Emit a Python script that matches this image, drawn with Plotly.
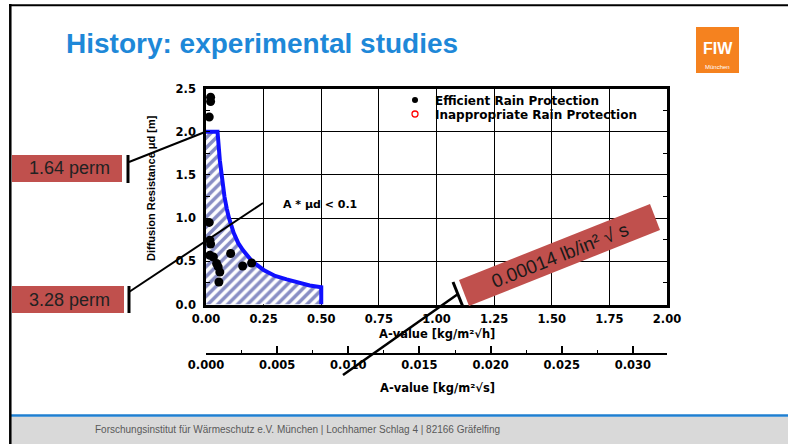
import plotly.graph_objects as go

# ---------------- data ----------------
eff_x = [0.020, 0.020, 0.014, 0.014, 0.017, 0.020, 0.017, 0.032, 0.046, 0.053, 0.060, 0.056, 0.107, 0.159, 0.198]
eff_y = [2.40, 2.35, 2.17, 0.95, 0.745, 0.70, 0.57, 0.55, 0.475, 0.435, 0.375, 0.26, 0.59, 0.445, 0.48]

inapp_x = [0.60, 0.70, 0.90, 0.99, 0.99, 0.99, 1.095, 1.396]
inapp_y = [0.27, 0.21, 0.27, 0.29, 0.245, 0.20, 0.256, 0.194]

# boundary A * mu_d = 0.1
bound_x = [0.0, 0.05, 0.06, 0.07, 0.08, 0.09, 0.10, 0.12, 0.14, 0.16, 0.18, 0.20, 0.25, 0.30, 0.35, 0.40, 0.45, 0.50, 0.50]
bound_y = [2.0, 2.0, 1.67, 1.43, 1.25, 1.11, 1.00, 0.83, 0.71, 0.63, 0.56, 0.50, 0.40, 0.33, 0.29, 0.25, 0.22, 0.20, 0.0]

x_ticks = [0.0, 0.25, 0.5, 0.75, 1.0, 1.25, 1.5, 1.75, 2.0]
y_ticks = [0.0, 0.5, 1.0, 1.5, 2.0, 2.5]
x2_ticks = [0.000, 0.005, 0.010, 0.015, 0.020, 0.025, 0.030]

W, H = 788, 444


def px(x):
    return x / W


def py(y):
    return 1 - y / H


CHART_FONT = "DejaVu Sans"
SLIDE_FONT = "Arial, Liberation Sans, sans-serif"

fig = go.Figure()

# hatched region
fig.add_trace(go.Scatter(
    x=[0.0] + bound_x, y=[0.0] + bound_y, mode="lines", fill="toself",
    line=dict(width=0, color="rgba(0,0,0,0)"),
    fillcolor="white",
    fillpattern=dict(shape="/", fgcolor="#121d8a", bgcolor="white", size=7, solidity=0.5),
    showlegend=False, hoverinfo="skip"))
# blue boundary
fig.add_trace(go.Scatter(
    x=bound_x, y=bound_y, mode="lines", line=dict(color="#1010ff", width=4),
    showlegend=False, hoverinfo="skip"))

fig.add_trace(go.Scatter(
    x=eff_x, y=eff_y, mode="markers", name="Efficient Rain Protection",
    marker=dict(color="black", size=9), showlegend=False))
fig.add_trace(go.Scatter(
    x=inapp_x, y=inapp_y, mode="markers", name="Inappropriate Rain Protection",
    marker=dict(color="rgba(0,0,0,0)", size=7, symbol="circle-open", line=dict(color="#ff0000", width=1.5)),
    showlegend=False))

# legend entries
fig.add_trace(go.Scatter(
    x=[None], y=[None], mode="markers", name="Efficient Rain Protection",
    marker=dict(color="black", size=6), legend="legend"))
fig.add_trace(go.Scatter(
    x=[None], y=[None], mode="markers", name="Inappropriate Rain Protection",
    marker=dict(size=6, symbol="circle-open", color="#ff0000", line=dict(color="#ff0000", width=1.3)),
    legend="legend2"))

# dummy trace for the secondary x axis
fig.add_trace(go.Scatter(x=[None], y=[None], xaxis="x2", yaxis="y", showlegend=False, hoverinfo="skip"))

tickfont = dict(family=CHART_FONT, size=11.5, color="black", weight="bold")

fig.update_layout(
    width=W, height=H,
    margin=dict(l=0, r=0, t=0, b=0, pad=0, autoexpand=False),
    paper_bgcolor="white", plot_bgcolor="white",
    xaxis=dict(
        domain=[px(206), px(667)], range=[0, 2], tickvals=x_ticks, tickformat=".2f",
        showgrid=True, gridcolor="black", gridwidth=1.3, zeroline=False,
        showline=True, linecolor="black", linewidth=2.5, mirror=True,
        ticks="", tickfont=tickfont, ticklabelstandoff=2, fixedrange=True, automargin=False),
    yaxis=dict(
        domain=[py(304.5), py(88.5)], range=[0, 2.5], tickvals=y_ticks, tickformat=".1f",
        showgrid=True, gridcolor="black", gridwidth=1.3, zeroline=False,
        showline=True, linecolor="black", linewidth=2.5, mirror="allticks",
        ticks="inside", ticklen=4, tickcolor="black", tickwidth=1.3,
        minor=dict(dtick=0.25, ticks="inside", ticklen=4, tickcolor="black", tickwidth=1.3, showgrid=False),
        tickfont=tickfont, ticklabelstandoff=5, fixedrange=True, automargin=False),
    xaxis2=dict(
        overlaying="x", anchor="free", position=py(354), side="bottom",
        range=[0, 0.0324], tickvals=x2_ticks, tickformat=".3f",
        showgrid=False, zeroline=False, showline=True, linecolor="black", linewidth=2,
        ticks="inside", ticklen=7, tickwidth=2, tickcolor="black",
        minor=dict(dtick=0.0025, ticks="inside", ticklen=3, tickcolor="black", tickwidth=1.3),
        tickfont=tickfont, fixedrange=True, automargin=False),
    legend=dict(x=px(395), y=py(100), xanchor="left", yanchor="middle",
                font=dict(family=CHART_FONT, size=12, color="black", weight="bold"),
                bgcolor="rgba(0,0,0,0)", borderwidth=0),
    legend2=dict(x=px(395), y=py(114), xanchor="left", yanchor="middle",
                 font=dict(family=CHART_FONT, size=12, color="black", weight="bold"),
                 bgcolor="rgba(0,0,0,0)", borderwidth=0),
    showlegend=True,
)


def line(x0, y0, x1, y1, width=2, color="black"):
    return dict(type="line", xref="paper", yref="paper", x0=px(x0), y0=py(y0), x1=px(x1), y1=py(y1),
                line=dict(color=color, width=width))


def rect(x0, y0, x1, y1, fill, layer="above"):
    return dict(type="rect", xref="paper", yref="paper", x0=px(x0), y0=py(y0), x1=px(x1), y1=py(y1),
                fillcolor=fill, line=dict(width=0), layer=layer)


# rotated red box corners (pixels)
corners = [(459, 280), (650, 204), (660, 230), (469, 306)]
path = "M " + " L ".join(f"{px(x):.5f},{py(y):.5f}" for x, y in corners) + " Z"

RED = "#c0504d"
shapes = [
    rect(11, 416.7, 788, 444, "#d9d9d9", layer="below"),
    line(11, 415.5, 788, 415.5, width=2.4, color="#1f7fd1"),
    line(9, 5.2, 788, 5.2, width=2),
    line(10.3, 4, 10.3, 444, width=2.5),
    rect(696, 27, 739, 73, "#f5821f"),
    rect(12, 155, 122, 182, RED),
    rect(12, 286, 124, 313, RED),
    line(128, 155, 128, 183, width=3),
    line(129, 286, 129, 313, width=3),
    line(129, 162, 205, 132, width=2),
    line(129, 292, 263, 203, width=2),
    line(343, 375, 458, 294, width=2.5),
    line(453, 282, 463, 307, width=3),
    dict(type="path", xref="paper", yref="paper", path=path, fillcolor=RED, line=dict(width=0)),
]
fig.update_layout(shapes=shapes)


def ann(text, x, y, size, family=SLIDE_FONT, color="black", bold=False, xanchor="center", yanchor="middle", angle=0):
    return dict(text=text, x=px(x), y=py(y), xref="paper", yref="paper", showarrow=False,
                xanchor=xanchor, yanchor=yanchor, textangle=angle,
                font=dict(family=family, size=size, color=color, weight="bold" if bold else "normal"))


annotations = [
    ann("History: experimental studies", 64, 44, 28, color="#1e88d8", bold=True, xanchor="left"),
    ann("FIW", 717.5, 49, 16, color="white", bold=True),
    ann("München", 717.5, 67, 6, color="white"),
    ann("1.64 perm", 69, 168.5, 18, color="#222222"),
    ann("3.28 perm", 69, 299.5, 18, color="#222222"),
    ann("A * μd &lt; 0.1", 320, 204, 11, family=CHART_FONT, bold=True),
    ann("0.00014 lb/in² √ s", 559.5, 255, 19, color="#1a1a1a", angle=-21.7),
    ann("Diffusion Resistance μd [m]", 151, 188, 11, bold=True, angle=-90),
    ann("A-value [kg/m²√h]", 437, 334, 11.5, family=CHART_FONT, bold=True),
    ann("A-value [kg/m²√s]", 437, 388, 11.5, family=CHART_FONT, bold=True),
    ann("Forschungsinstitut für Wärmeschutz e.V. München | Lochhamer Schlag 4 | 82166 Gräfelfing",
        93, 429, 10, color="#595959", xanchor="left"),
]
fig.update_layout(annotations=annotations)

fig.write_html("out.html", config={"displayModeBar": False, "staticPlot": False},
               post_script="document.body.style.margin='0';document.body.style.overflow='hidden';")
